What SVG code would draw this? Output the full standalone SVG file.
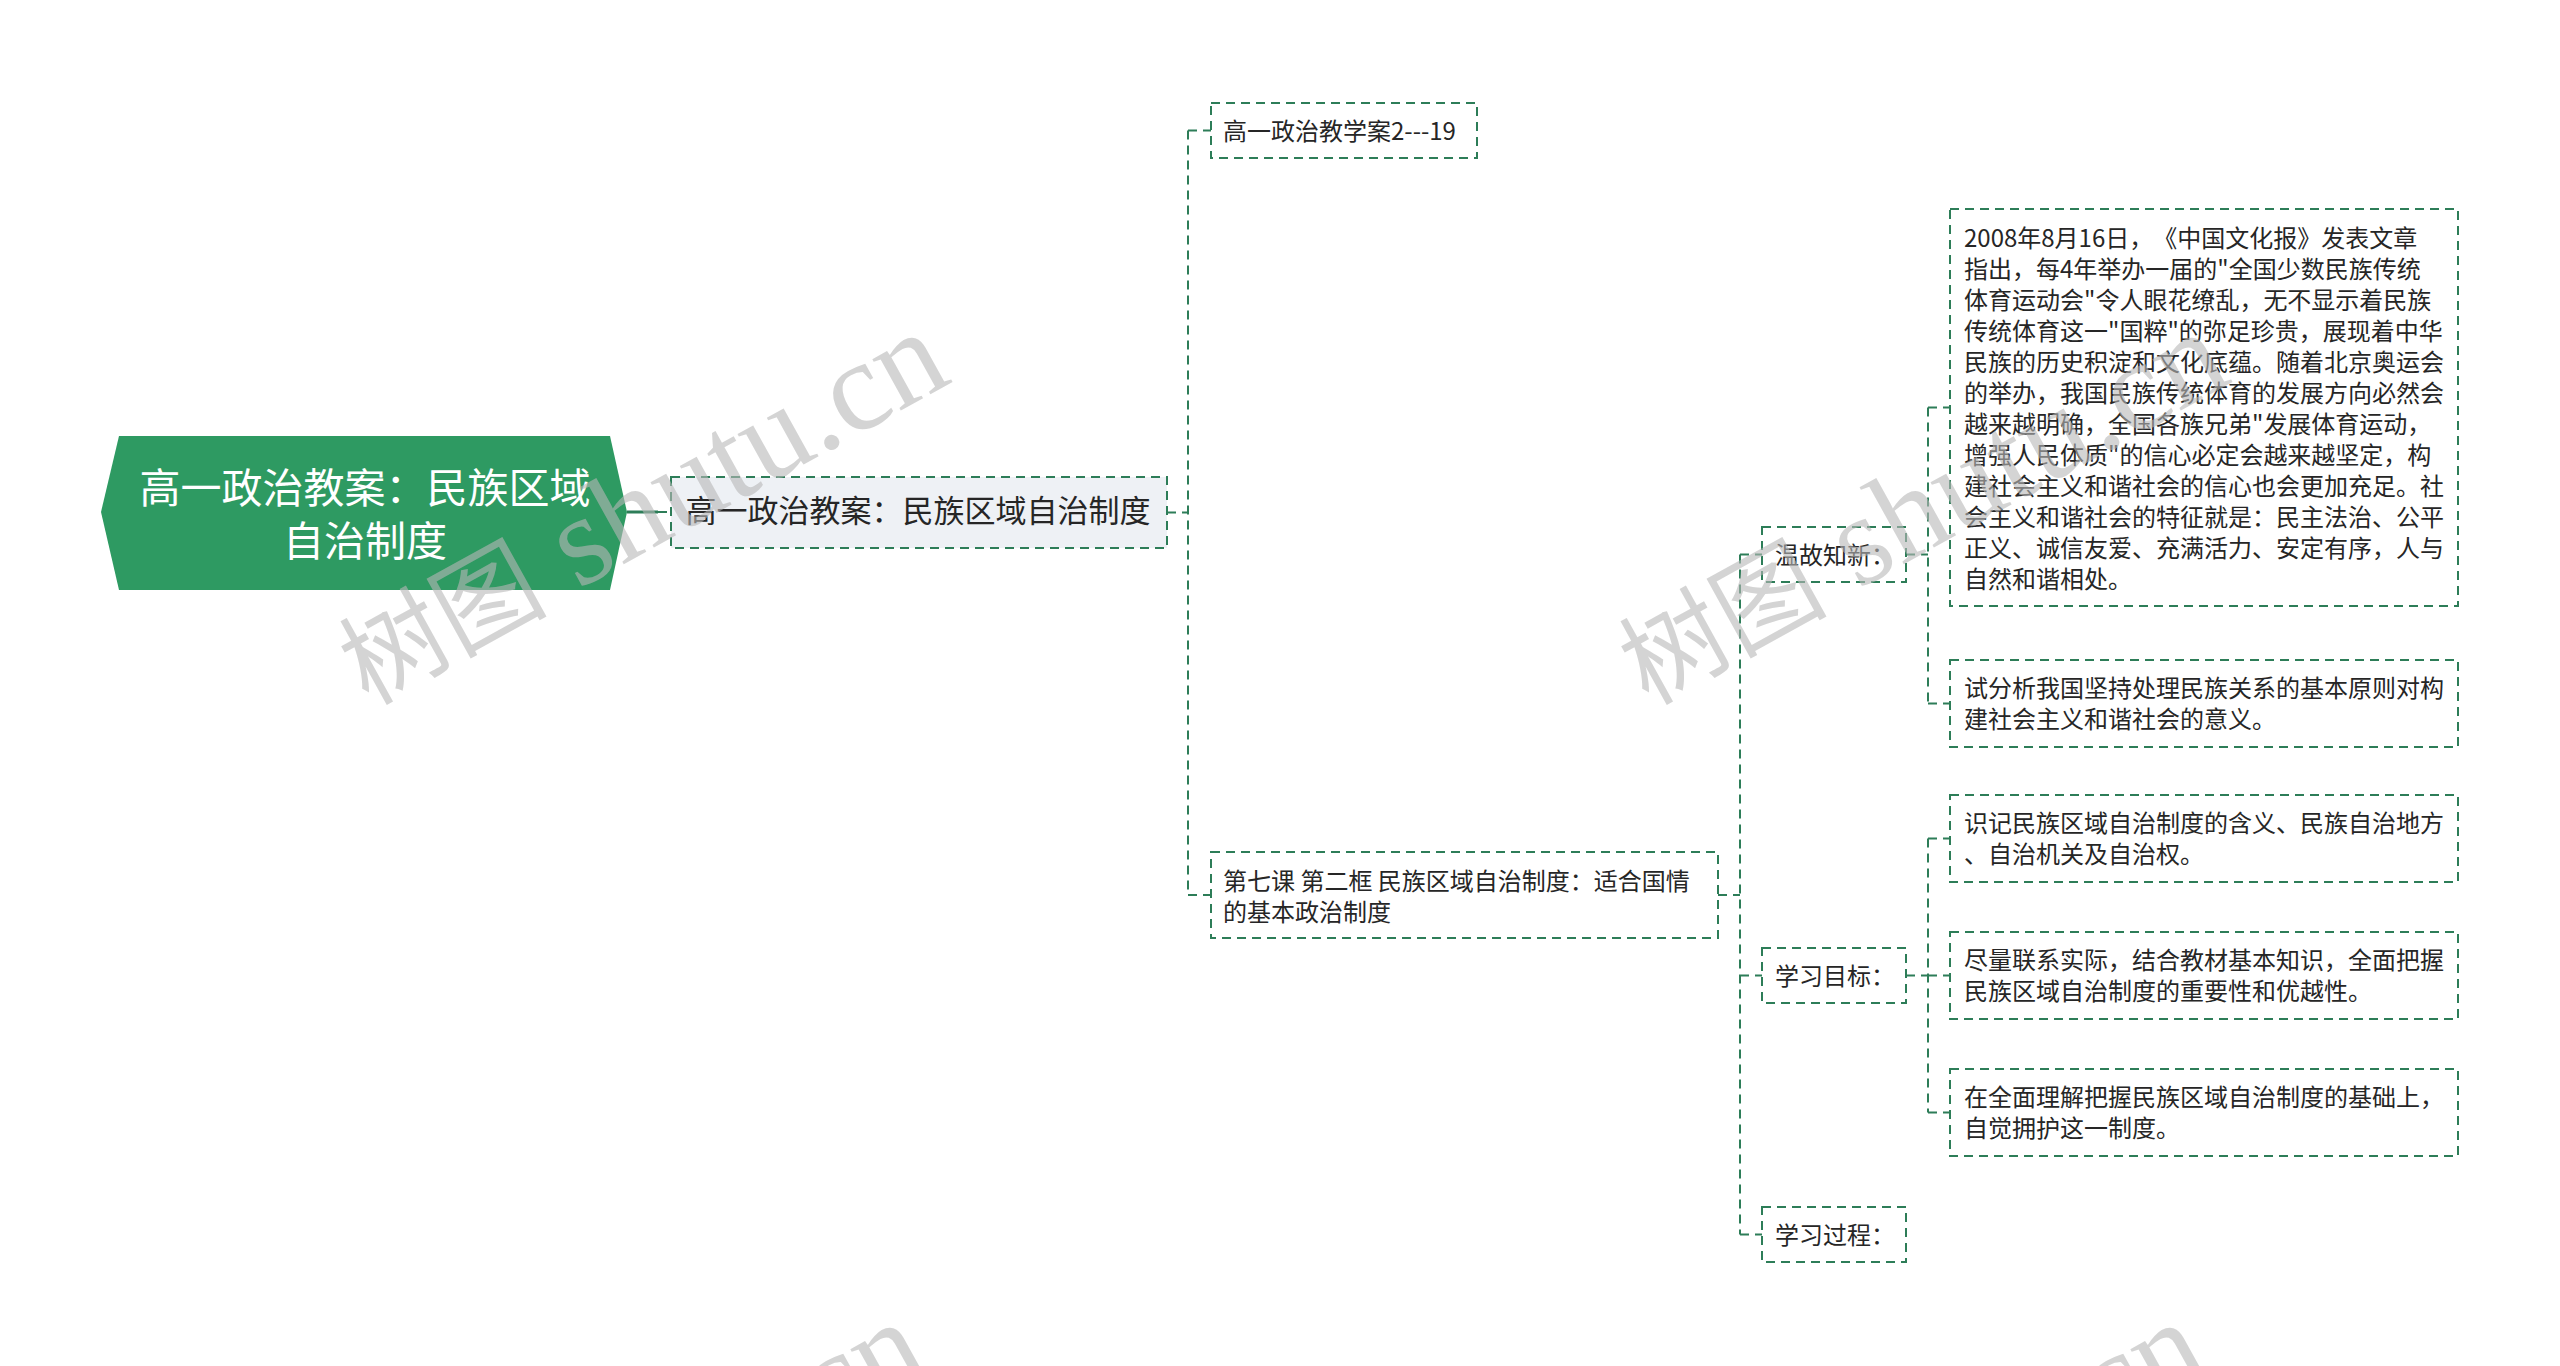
<svg xmlns="http://www.w3.org/2000/svg" xmlns:xlink="http://www.w3.org/1999/xlink" width="2560" height="1366" viewBox="0 0 2560 1366">
<style>
text{text-spacing-trim:space-all}
.bg{fill:#ffffff}
.root{fill:#2e9a62}
.rt{font-family:"Noto Sans CJK SC","Liberation Sans",sans-serif;font-size:41px;fill:#ffffff}
.box{fill:#ffffff;stroke:#2d7d58;stroke-width:2;stroke-dasharray:9 6}
.box2{fill:#eef1f5;stroke:#2d7d58;stroke-width:2;stroke-dasharray:9 6}
.t{font-family:"Noto Sans CJK SC","Liberation Sans",sans-serif;font-size:24px;fill:#262626}
.t2{font-family:"Noto Sans CJK SC","Liberation Sans",sans-serif;font-size:31px;fill:#262626}
.c{fill:none;stroke:#2d7d58;stroke-width:2;stroke-dasharray:9 6}
.c0{fill:none;stroke:#2d7d58;stroke-width:3}
.wm{font-family:"Liberation Serif","Noto Sans CJK SC",serif;fill:#b8b8b8;fill-opacity:0.6}
</style>
<defs>
<text id="wm" class="wm" transform="translate(368,706) rotate(-29)"><tspan font-size="104">树图</tspan><tspan font-size="128"> shutu.cn</tspan></text>
</defs>
<rect class="bg" x="0" y="0" width="2560" height="1366"/>
<g id="connectors">
<path class="c0" d="M627,512 H658"/>
<path class="c" d="M658,512 H671"/>
<path class="c" d="M1167,512.5 H1188 M1188,130.5 V895 M1188,130.5 H1211 M1188,895 H1211"/>
<path class="c" d="M1718,895 H1740 M1740,554.5 V1234.5 M1740,554.5 H1762 M1740,975.5 H1762 M1740,1234.5 H1762"/>
<path class="c" d="M1906,554.5 H1928 M1928,407.5 V703.5 M1928,407.5 H1950 M1928,703.5 H1950"/>
<path class="c" d="M1906,975.5 H1928 M1928,838.5 V1112.5 M1928,838.5 H1950 M1928,975.5 H1950 M1928,1112.5 H1950"/>
</g>
<g id="n_root">
<polygon class="root" points="101,512 119,436 610,436 627,512 610,590 119,590"/>
<text class="rt" text-anchor="middle"><tspan x="365" y="503">高一政治教案：民族区域</tspan><tspan x="365" y="556">自治制度</tspan></text>
</g>
<g id="n_main">
<rect class="box2" x="671" y="477" width="496" height="71"/>
<text class="t2" x="918" y="522" text-anchor="middle">高一政治教案：民族区域自治制度</text>
</g>
<g id="n_top">
<rect class="box" x="1211" y="103" width="266" height="55"/>
<text class="t" x="1223" y="139.5">高一政治教学案2---19</text>
</g>
<g id="n_lesson">
<rect class="box" x="1211" y="852" width="507" height="86"/>
<text class="t"><tspan x="1223" y="889.5">第七课 第二框 民族区域自治制度：适合国情</tspan><tspan x="1223" y="920.5">的基本政治制度</tspan></text>
</g>
<g id="n_wgzx">
<rect class="box" x="1762" y="527" width="144" height="55"/>
<text class="t" x="1775" y="563.5">温故知新：</text>
</g>
<g id="n_big">
<rect class="box" x="1950" y="209" width="508" height="397"/>
<text class="t">
<tspan x="1964" y="247">2008年8月16日，《中国文化报》发表文章</tspan>
<tspan x="1964" y="278">指出，每4年举办一届的"全国少数民族传统</tspan>
<tspan x="1964" y="309">体育运动会"令人眼花缭乱，无不显示着民族</tspan>
<tspan x="1964" y="340">传统体育这一"国粹"的弥足珍贵，展现着中华</tspan>
<tspan x="1964" y="371">民族的历史积淀和文化底蕴。随着北京奥运会</tspan>
<tspan x="1964" y="402">的举办，我国民族传统体育的发展方向必然会</tspan>
<tspan x="1964" y="433">越来越明确，全国各族兄弟"发展体育运动，</tspan>
<tspan x="1964" y="464">增强人民体质"的信心必定会越来越坚定，构</tspan>
<tspan x="1964" y="495">建社会主义和谐社会的信心也会更加充足。社</tspan>
<tspan x="1964" y="526">会主义和谐社会的特征就是：民主法治、公平</tspan>
<tspan x="1964" y="557">正义、诚信友爱、充满活力、安定有序，人与</tspan>
<tspan x="1964" y="588">自然和谐相处。</tspan>
</text>
</g>
<g id="n_sfx">
<rect class="box" x="1950" y="660" width="508" height="87"/>
<text class="t"><tspan x="1964" y="697">试分析我国坚持处理民族关系的基本原则对构</tspan><tspan x="1964" y="728">建社会主义和谐社会的意义。</tspan></text>
</g>
<g id="n_xxmb">
<rect class="box" x="1762" y="948" width="144" height="55"/>
<text class="t" x="1775" y="984.5">学习目标：</text>
</g>
<g id="n_g1">
<rect class="box" x="1950" y="795" width="508" height="87"/>
<text class="t"><tspan x="1964" y="832">识记民族区域自治制度的含义、民族自治地方</tspan><tspan x="1964" y="863">、自治机关及自治权。</tspan></text>
</g>
<g id="n_g2">
<rect class="box" x="1950" y="932" width="508" height="87"/>
<text class="t"><tspan x="1964" y="969">尽量联系实际，结合教材基本知识，全面把握</tspan><tspan x="1964" y="1000">民族区域自治制度的重要性和优越性。</tspan></text>
</g>
<g id="n_g3">
<rect class="box" x="1950" y="1069" width="508" height="87"/>
<text class="t"><tspan x="1964" y="1106">在全面理解把握民族区域自治制度的基础上，</tspan><tspan x="1964" y="1137">自觉拥护这一制度。</tspan></text>
</g>
<g id="n_xxgc">
<rect class="box" x="1762" y="1207" width="144" height="55"/>
<text class="t" x="1775" y="1243.5">学习过程：</text>
</g>
<g id="watermarks">
<use xlink:href="#wm"/>
<use xlink:href="#wm" transform="translate(1280,0)"/>
<use xlink:href="#wm" transform="translate(-22,990)"/>
<use xlink:href="#wm" transform="translate(1258,990)"/>
</g>
</svg>
